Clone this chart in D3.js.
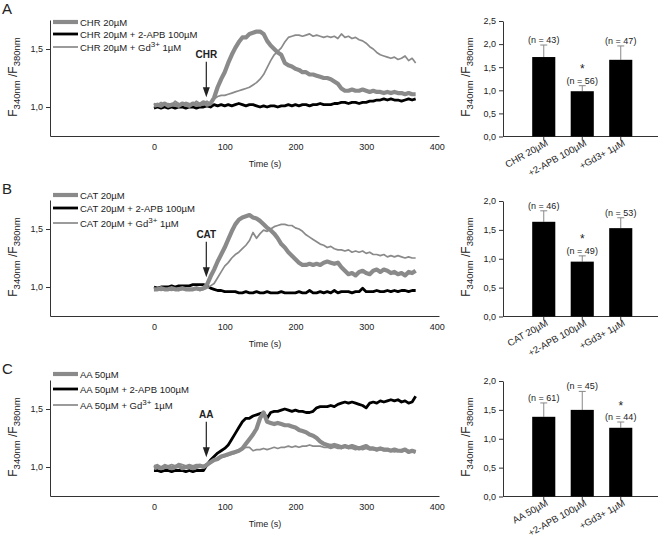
<!DOCTYPE html>
<html><head><meta charset="utf-8">
<script src="https://cdn.jsdelivr.net/npm/d3@7"></script>
<style>body{margin:0;background:#fff} svg{display:block} text{font-family:"Liberation Sans",Arial,sans-serif;fill:#222}</style>
</head><body>
<svg id="chart" width="661" height="540"></svg>
<script>
// ---------- DATA ----------
const times = [0,5,10,15,20,25,30,35,40,45,50,55,60,65,70,75,80,85,90,95,100,105,110,115,120,125,130,135,140,145,150,155,160,165,170,175,180,185,190,195,200,205,210,215,220,225,230,235,240,245,250,255,260,265,270,275,280,285,290,295,300,305,310,315,320,325,330,335,340,345,350,355,360,365,370];
const timeTicks = [0,100,200,300,400];
const ratioTicks = [1.0,1.5];

// Panel A (CHR)
const chrControl = [1.01,1.02,1.01,1.03,1.01,1.02,1.02,1.01,1.03,1.02,1.01,1.03,1.02,1.02,1.04,1.02,1.03,
 1.08,1.17,1.24,1.30,1.38,1.45,1.51,1.56,1.60,1.60,1.63,1.64,1.65,1.65,1.63,1.57,1.53,1.50,1.47,1.45,
 1.38,1.36,1.35,1.33,1.32,1.30,1.30,1.28,1.28,1.27,1.26,1.25,1.25,1.24,1.22,1.20,1.16,1.14,1.14,1.15,
 1.14,1.14,1.15,1.14,1.13,1.14,1.13,1.13,1.12,1.13,1.12,1.13,1.12,1.12,1.11,1.12,1.11,1.11];
const chrApb = [0.99,1.00,0.99,1.00,0.99,1.00,0.99,1.00,1.00,0.99,1.00,1.00,0.99,1.00,1.00,1.01,1.00,
 1.02,1.01,1.02,1.01,1.02,1.01,1.02,1.03,1.02,1.01,1.02,1.02,1.01,1.00,1.01,1.00,1.01,1.01,1.00,1.01,
 1.01,1.02,1.01,1.02,1.01,1.02,1.02,1.01,1.02,1.02,1.03,1.02,1.02,1.02,1.03,1.03,1.04,1.04,1.03,1.04,
 1.04,1.03,1.04,1.04,1.05,1.05,1.06,1.06,1.07,1.06,1.07,1.06,1.06,1.05,1.06,1.07,1.06,1.07];
const chrGd = [1.03,1.02,1.04,1.02,1.03,1.02,1.05,1.03,1.02,1.04,1.03,1.02,1.05,1.03,1.04,1.05,1.03,
 1.07,1.09,1.10,1.10,1.11,1.12,1.13,1.14,1.15,1.16,1.17,1.19,1.21,1.24,1.28,1.34,1.40,1.45,1.48,1.51,
 1.56,1.60,1.61,1.62,1.62,1.61,1.62,1.63,1.61,1.62,1.61,1.60,1.61,1.60,1.61,1.59,1.63,1.60,1.61,1.59,
 1.60,1.58,1.57,1.55,1.52,1.50,1.47,1.45,1.44,1.43,1.42,1.43,1.41,1.42,1.44,1.40,1.42,1.38];

// Panel B (CAT)
const catControl = [0.98,0.98,0.99,0.98,0.98,0.99,0.98,0.98,0.99,0.98,0.98,0.98,0.99,0.98,0.99,1.02,1.09,
 1.15,1.22,1.28,1.34,1.41,1.48,1.54,1.58,1.60,1.61,1.62,1.60,1.59,1.57,1.54,1.51,1.49,1.46,1.42,1.37,
 1.34,1.30,1.27,1.24,1.21,1.19,1.19,1.20,1.19,1.20,1.19,1.21,1.22,1.21,1.20,1.21,1.17,1.14,1.11,1.12,
 1.10,1.13,1.14,1.12,1.11,1.14,1.15,1.13,1.15,1.14,1.12,1.13,1.11,1.12,1.10,1.13,1.12,1.14];
const catApb = [1.00,0.99,1.00,1.00,1.00,1.01,1.00,1.01,1.01,1.01,1.01,1.02,1.02,1.02,1.02,1.01,0.99,
 0.98,0.97,0.97,0.96,0.96,0.96,0.96,0.95,0.95,0.96,0.95,0.95,0.96,0.95,0.95,0.96,0.95,0.95,0.95,0.96,
 0.95,0.95,0.95,0.95,0.96,0.95,0.95,0.97,0.95,0.95,0.96,0.95,0.96,0.95,0.97,0.95,0.96,0.96,0.96,0.95,
 0.96,0.96,0.99,0.96,0.96,0.96,0.97,0.96,0.96,0.97,0.96,0.97,0.96,0.97,0.97,0.96,0.97,0.97];
const catGd = [0.97,0.98,0.97,0.98,0.98,0.97,0.98,0.97,0.98,0.98,0.97,0.98,0.98,0.97,0.98,0.99,1.01,
 1.03,1.08,1.13,1.18,1.21,1.25,1.28,1.30,1.33,1.36,1.40,1.47,1.42,1.46,1.49,1.48,1.50,1.52,1.53,1.54,
 1.54,1.53,1.53,1.51,1.50,1.48,1.45,1.43,1.41,1.39,1.37,1.36,1.34,1.35,1.33,1.32,1.32,1.31,1.32,1.30,
 1.31,1.30,1.31,1.29,1.30,1.28,1.28,1.27,1.28,1.26,1.27,1.26,1.27,1.26,1.25,1.26,1.25,1.25];

// Panel C (AA)
const aaControl = [0.99,1.00,0.99,1.00,1.00,0.99,1.00,1.01,0.99,1.00,1.00,0.99,1.00,1.01,1.00,1.02,1.04,
 1.06,1.07,1.09,1.10,1.11,1.12,1.13,1.14,1.16,1.20,1.24,1.28,1.33,1.42,1.47,1.39,1.38,1.37,1.38,1.37,
 1.36,1.36,1.35,1.34,1.32,1.31,1.30,1.28,1.27,1.25,1.22,1.20,1.19,1.18,1.19,1.18,1.17,1.18,1.17,1.18,
 1.17,1.16,1.17,1.18,1.16,1.16,1.15,1.16,1.15,1.15,1.14,1.15,1.14,1.14,1.15,1.13,1.14,1.13];
const aaApb = [0.97,0.97,0.96,0.97,0.97,0.96,0.97,0.97,0.97,0.96,0.97,0.96,0.97,0.97,0.97,1.02,1.06,
 1.09,1.12,1.14,1.16,1.19,1.24,1.29,1.34,1.39,1.42,1.42,1.44,1.45,1.46,1.47,1.42,1.47,1.48,1.48,1.49,
 1.50,1.49,1.48,1.49,1.48,1.48,1.47,1.47,1.48,1.51,1.52,1.52,1.52,1.53,1.52,1.54,1.55,1.56,1.55,1.56,
 1.55,1.54,1.53,1.51,1.55,1.56,1.55,1.57,1.56,1.57,1.58,1.57,1.58,1.56,1.57,1.55,1.56,1.61];
const aaGd = [1.01,1.02,1.00,1.02,1.01,1.02,1.01,1.03,1.02,1.01,1.02,1.01,1.02,1.02,1.01,1.03,1.04,
 1.06,1.07,1.08,1.09,1.10,1.11,1.12,1.14,1.15,1.17,1.17,1.14,1.15,1.15,1.16,1.15,1.16,1.17,1.16,1.17,
 1.17,1.18,1.17,1.18,1.17,1.18,1.18,1.19,1.18,1.18,1.18,1.17,1.17,1.16,1.17,1.16,1.16,1.17,1.16,1.16,
 1.15,1.16,1.15,1.16,1.15,1.15,1.14,1.15,1.14,1.14,1.14,1.13,1.14,1.13,1.14,1.13,1.13,1.13];

// Legends
const legendA = ["CHR 20µM", "CHR 20µM + 2-APB 100µM", "CHR 20µM + Gd"];
const legendB = ["CAT 20µM", "CAT 20µM + 2-APB 100µM", "CAT 20µM + Gd"];
const legendC = ["AA 50µM", "AA 50µM + 2-APB 100µM", "AA 50µM + Gd"];
const drugLabels = ["CHR", "CAT", "AA"];
const drugTime = 74;

// Bar charts
const barCatsA = ["CHR 20µM", "+2-APB 100µM", "+Gd3+ 1µM"];
const barCatsB = ["CAT 20µM", "+2-APB 100µM", "+Gd3+ 1µM"];
const barCatsC = ["AA 50µM", "+2-APB 100µM", "+Gd3+ 1µM"];
const barMeansA = [1.72, 0.98, 1.66];
const barMeansB = [1.64, 0.95, 1.53];
const barMeansC = [1.38, 1.50, 1.19];
const barErrA = [0.26, 0.12, 0.30];
const barErrB = [0.19, 0.10, 0.18];
const barErrC = [0.24, 0.32, 0.10];
const barNA = [43, 56, 47];
const barNB = [46, 49, 53];
const barNC = [61, 45, 44];
const barSigA = [false, true, false];
const barSigB = [false, true, false];
const barSigC = [false, false, true];
const barTicksA = [0, 0.5, 1.0, 1.5, 2.0, 2.5];
const barTicksBC = [0, 0.5, 1.0, 1.5, 2.0];

// ---------- LAYOUT ----------
const panels = [
  {letter:"A", oy:0,   series:[chrControl, chrApb, chrGd], legend:legendA, legY:[22,34,47], drug:drugLabels[0],
   cats:barCatsA, means:barMeansA, errs:barErrA, ns:barNA, sig:barSigA, bticks:barTicksA, bmax:2.5},
  {letter:"B", oy:180, series:[catControl, catApb, catGd], legend:legendB, legY:[15,28,43], drug:drugLabels[1],
   cats:barCatsB, means:barMeansB, errs:barErrB, ns:barNB, sig:barSigB, bticks:barTicksBC, bmax:2.0},
  {letter:"C", oy:360, series:[aaControl, aaApb, aaGd], legend:legendC, legY:[14,29,45], drug:drugLabels[2],
   cats:barCatsC, means:barMeansC, errs:barErrC, ns:barNC, sig:barSigC, bticks:barTicksBC, bmax:2.0}
];

const GRAY = "#8a8a8a";
const AXIS = "#333";
const lineStyles = [
  {stroke:GRAY, w:4.2},
  {stroke:"#000", w:2.8},
  {stroke:GRAY, w:1.7}
];
const drawOrder = [1, 0, 2];
const commaFmt = d => d3.format(".1f")(d).replace(".", ",");

const svg = d3.select("#chart");

function yLabel(g, x, y) {
  const t = g.append("text").attr("transform", `translate(${x},${y}) rotate(-90)`)
    .attr("text-anchor","middle").attr("font-size",12);
  t.append("tspan").text("F");
  t.append("tspan").attr("font-size",9.5).attr("dy",3).text("340nm");
  t.append("tspan").attr("dy",-3).text(" /F");
  t.append("tspan").attr("font-size",9.5).attr("dy",3).text("380nm");
}

function styleAxis(sel) {
  sel.selectAll("path.domain").attr("stroke", AXIS).attr("stroke-width", 1);
  sel.selectAll(".tick line").attr("stroke", AXIS);
  sel.selectAll(".tick text").attr("fill", "#222").attr("font-size", 9)
     .attr("font-family", '"Liberation Sans",Arial,sans-serif');
}

panels.forEach(p => {
  const g = svg.append("g").attr("transform", `translate(0,${p.oy})`);
  g.append("text").attr("x", 2).attr("y", 14).attr("font-size", 15).text(p.letter);

  // ---- line chart ----
  const x = d3.scaleLinear().domain([-147, 403]).range([50, 439]);
  const y = d3.scaleLinear().domain([0.75, 1.75]).range([136, 20]);

  const xa = g.append("g").attr("transform", "translate(0,136)")
    .call(d3.axisBottom(x).tickValues(timeTicks).tickSize(0).tickPadding(8).tickSizeOuter(0));
  styleAxis(xa);
  const ya = g.append("g").attr("transform", "translate(50,0)")
    .call(d3.axisLeft(y).tickValues(ratioTicks).tickFormat(commaFmt).tickSize(4).tickPadding(3).tickSizeOuter(0));
  styleAxis(ya);

  g.append("text").attr("x", x(157)).attr("y", 167).attr("text-anchor","middle")
    .attr("font-size", 9).text("Time (s)");
  yLabel(g, 16.5, 77);

  const line = d3.line().x((d, i) => x(times[i])).y(d => y(d));
  drawOrder.forEach(k => {
    g.append("path").datum(p.series[k]).attr("fill","none")
      .attr("stroke", lineStyles[k].stroke).attr("stroke-width", lineStyles[k].w)
      .attr("stroke-linejoin","round").attr("d", line);
  });

  // legend
  p.legend.forEach((lab, k) => {
    const ly = p.legY[k];
    g.append("line").attr("x1", 53).attr("x2", 78).attr("y1", ly).attr("y2", ly)
      .attr("stroke", lineStyles[k].stroke).attr("stroke-width", lineStyles[k].w);
    const t = g.append("text").attr("x", 80).attr("y", ly + 3.5).attr("font-size", 9.5).text(lab);
    if (k === 2) {
      t.append("tspan").attr("font-size", 8).attr("dy", -4).text("3+");
      t.append("tspan").attr("dy", 4).text(" 1µM");
    }
  });

  // arrow
  const ax = x(drugTime);
  g.append("text").attr("x", ax).attr("y", y(1.425)).attr("text-anchor","middle")
    .attr("font-size", 10).attr("font-weight","bold").text(p.drug);
  g.append("line").attr("x1", ax).attr("x2", ax).attr("y1", y(1.39)).attr("y2", y(1.14))
    .attr("stroke", "#222").attr("stroke-width", 1.2);
  const tipY = y(1.085);
  g.append("path").attr("d", `M${ax-3.5},${tipY-10}L${ax+3.5},${tipY-10}L${ax},${tipY}Z`).attr("fill","#222");

  // ---- bar chart ----
  const by = d3.scaleLinear().domain([0, p.bmax]).range([136.5, 21]);
  const bx = d3.scaleBand().domain(p.cats).range([524.5, 640]).paddingInner(0.4).paddingOuter(0.2);

  const bya = g.append("g").attr("transform", "translate(503,0)")
    .call(d3.axisLeft(by).tickValues(p.bticks).tickFormat(commaFmt).tickSize(4).tickPadding(3).tickSizeOuter(0));
  styleAxis(bya);
  const bxa = g.append("g").attr("transform", "translate(0,136.5)")
    .call(d3.axisBottom(bx).tickSize(4).tickFormat("").tickSizeOuter(0));
  styleAxis(bxa);
  bxa.select("path.domain").remove();
  g.append("line").attr("x1", 503).attr("x2", 658).attr("y1", 136.5).attr("y2", 136.5)
    .attr("stroke", AXIS).attr("stroke-width", 1);

  yLabel(g, 470, 77);

  p.cats.forEach((c, i) => {
    const cx = bx(c) + bx.bandwidth() / 2;
    const top = by(p.means[i]);
    const etop = by(p.means[i] + p.errs[i]);
    g.append("line").attr("x1", cx).attr("x2", cx).attr("y1", top).attr("y2", etop)
      .attr("stroke", "#888").attr("stroke-width", 1);
    g.append("line").attr("x1", cx - 3.5).attr("x2", cx + 3.5).attr("y1", etop).attr("y2", etop)
      .attr("stroke", "#888").attr("stroke-width", 1);
    g.append("rect").attr("x", bx(c)).attr("y", top).attr("width", bx.bandwidth())
      .attr("height", by(0) - top).attr("fill", "#000");
    g.append("text").attr("x", cx).attr("y", etop - 2).attr("text-anchor","middle")
      .attr("font-size", 9).text(`(n = ${p.ns[i]})`);
    if (p.sig[i]) {
      g.append("text").attr("x", cx).attr("y", etop - 12.5).attr("text-anchor","middle")
        .attr("font-size", 12).text("*");
    }
    g.append("text").attr("transform", `translate(${cx + 5},${145}) rotate(-29)`)
      .attr("text-anchor","end").attr("font-size", 9.5).text(c);
  });
});
</script>
</body></html>
